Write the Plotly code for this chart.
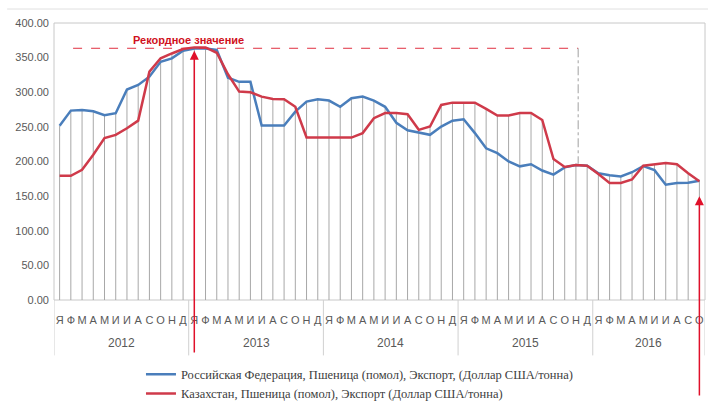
import plotly.graph_objects as go

# ---------------- data ----------------
months = ["Я", "Ф", "М", "А", "М", "И", "И", "А", "С", "О", "Н", "Д"]
years = ["2012", "2013", "2014", "2015", "2016"]
months_per_year = [12, 12, 12, 12, 10]

russia = [
    251.5, 273.5, 274.5, 272.6, 266.9, 269.7, 304.0, 310.5, 322.5, 344.0, 349.0, 360.0,
    363.0, 363.0, 361.0, 321.0, 315.0, 315.0, 252.0, 252.0, 252.0, 272.0, 286.5, 290.0,
    288.0, 279.0, 291.4, 293.7, 288.0, 279.0, 256.0, 245.0, 242.0, 238.5, 250.5, 259.0,
    261.0, 241.0, 219.0, 212.0, 200.0, 193.0, 196.0, 187.0, 181.0, 191.5, 195.0, 194.0,
    183.0, 180.0, 178.5, 184.5, 193.5, 187.5, 166.4, 169.0, 169.3, 172.3,
]
kazakhstan = [
    179.4, 179.4, 188.0, 209.7, 233.7, 238.5, 248.0, 259.0, 329.7, 349.0, 356.0, 362.4,
    364.8, 364.8, 357.0, 326.0, 301.0, 300.0, 293.7, 290.4, 290.0, 279.0, 234.6, 234.6,
    234.6, 234.6, 234.6, 241.0, 262.5, 270.0, 270.0, 268.3, 245.7, 250.5, 281.7, 285.0,
    285.0, 285.0, 276.0, 266.3, 266.3, 270.0, 270.0, 260.0, 203.5, 192.0, 195.0, 194.0,
    182.0, 169.0, 169.0, 174.0, 194.0, 196.0, 197.7, 196.0, 183.0, 171.5,
]

name_ru = "Российская Федерация, Пшеница (помол), Экспорт, (Доллар США/тонна)"
name_kz = "Казахстан, Пшеница (помол), Экспорт (Доллар США/тонна)"
record_label = "Рекордное значение"
record_value = 363.5
y_ticks = [0, 50, 100, 150, 200, 250, 300, 350, 400]

# ---------------- derived ----------------
n = len(russia)
x = list(range(n))
ticktext = []
for cnt in months_per_year:
    ticktext += months[:cnt]

drop_x, drop_y = [], []
for i in x:
    drop_x += [i, i, None]
    drop_y += [0, max(russia[i], kazakhstan[i]), None]

GREY_TXT = "#595959"
BLUE = "#4a7ebb"
RED = "#cf3a4a"
ARROW_RED = "#e0102a"

fig = go.Figure()
fig.add_trace(go.Scatter(x=drop_x, y=drop_y, mode="lines",
                         line=dict(color="#a8a8a8", width=1),
                         showlegend=False, hoverinfo="skip"))
fig.add_trace(go.Scatter(x=x, y=russia, name=name_ru, mode="lines",
                         line=dict(color=BLUE, width=2.5)))
fig.add_trace(go.Scatter(x=x, y=kazakhstan, name=name_kz, mode="lines",
                         line=dict(color=RED, width=2.5)))

shapes = []
# plot-area frame
shapes.append(dict(type="rect", xref="paper", yref="paper", x0=0, x1=1, y0=0, y1=1,
                   line=dict(color="#c8c8c8", width=1), layer="below"))
# outer chart top line
shapes.append(dict(type="line", xref="paper", yref="paper", x0=-0.072, x1=1.01,
                   y0=1.0505, y1=1.0505, line=dict(color="#e0e0e0", width=1)))
# year group separators
bounds = [-0.5]
for cnt in months_per_year:
    bounds.append(bounds[-1] + cnt)
for b in bounds:
    shapes.append(dict(type="line", xref="x", yref="paper", x0=b, x1=b, y0=0, y1=-0.2,
                       line=dict(color="#d0d0d0", width=1)))

# record level dashed line and dotted drop
rec_start, rec_end = 1.2, 46.2
shapes.append(dict(type="line", xref="x", yref="y", x0=rec_start, x1=rec_end,
                   y0=record_value, y1=record_value,
                   line=dict(color="#e03040", width=1, dash="dash")))
shapes.append(dict(type="line", xref="x", yref="y", x0=rec_end, x1=rec_end,
                   y0=record_value, y1=197,
                   line=dict(color="#a0a0a0", width=1, dash="dashdot")))

annotations = []
# year labels
start = 0
for yr, cnt in zip(years, months_per_year):
    annotations.append(dict(x=start + (cnt - 1) / 2, y=-0.155, xref="x", yref="paper",
                            xanchor="center", yanchor="middle",
                            text=yr, showarrow=False,
                            font=dict(size=12, color=GREY_TXT, family="Liberation Sans")))
    start += cnt

annotations.append(dict(x=11.5, y=375, xref="x", yref="y", text="<b>" + record_label + "</b>",
                        xanchor="center", yanchor="middle", showarrow=False,
                        font=dict(size=11, color="#d01020", family="Liberation Sans")))

# arrows
annotations.append(dict(x=12, y=360, xref="x", yref="y", ax=12, ay=-78, axref="x", ayref="y",
                        text="", showarrow=True, arrowhead=2, arrowsize=1.2, arrowwidth=1.5,
                        arrowcolor=ARROW_RED))
annotations.append(dict(x=57, y=150, xref="x", yref="y", ax=57, ay=-140, axref="x", ayref="y",
                        text="", showarrow=True, arrowhead=2, arrowsize=1.2, arrowwidth=1.5,
                        arrowcolor=ARROW_RED))

fig.update_layout(
    width=708, height=402,
    margin=dict(l=54, r=3, t=23, b=102, autoexpand=False),
    paper_bgcolor="white", plot_bgcolor="white",
    font=dict(family="Liberation Sans", color=GREY_TXT),
    xaxis=dict(range=[-0.5, n - 0.5], tickmode="array", tickvals=x, ticktext=ticktext,
               tickfont=dict(size=11, color=GREY_TXT), showgrid=False, zeroline=False,
               ticks="", showline=False, ticklabelstandoff=12, automargin=False),
    yaxis=dict(range=[0, 400], tickmode="array", tickvals=y_ticks, tickformat=".2f",
               tickfont=dict(size=11, color=GREY_TXT), showgrid=False, zeroline=False,
               ticks="", showline=False, ticklabelstandoff=4, automargin=False),
    legend=dict(x=0.1336, y=-0.215, xanchor="left", yanchor="top", orientation="v",
                font=dict(family="Times New Roman, Liberation Serif, serif", size=12.5,
                          color="#404040"),
                bgcolor="rgba(0,0,0,0)", tracegroupgap=0, itemwidth=30),
    shapes=shapes, annotations=annotations,
    showlegend=True,
)

fig.write_html("out.html", config={"displayModeBar": False},
               post_script="document.body.style.margin='0';document.body.style.overflow='hidden';")
